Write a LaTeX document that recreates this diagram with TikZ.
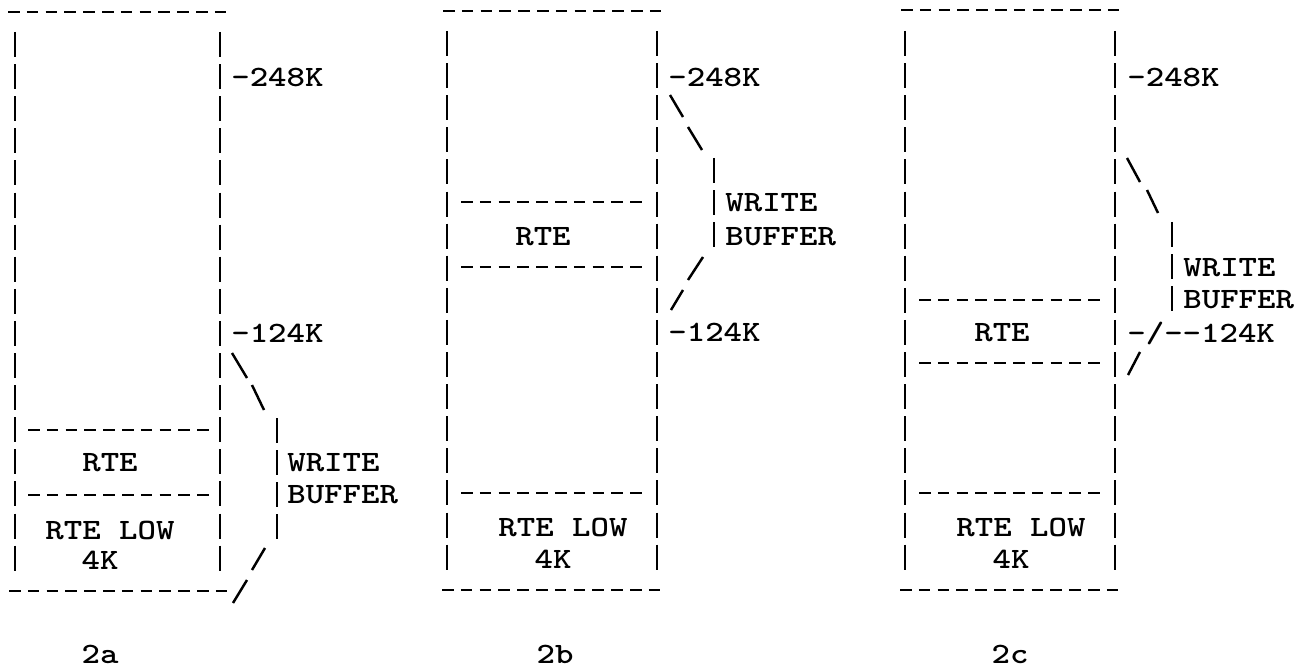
\documentclass[tikz,border=0pt]{standalone}
\usepackage{graphicx}
\usepackage{tikz}
\newcommand{\tw}[1]{\scalebox{1.19}[1]{#1}}
\tikzset{
  wall/.style={line width=1.5pt,dash pattern=on 5mm off 1.42mm},
  rule/.style={line width=1.5pt,dash pattern=on 2.3mm off 1.46mm},
  tick/.style={line width=1.4pt},
  lbl/.style={font=\ttfamily\bfseries\fontsize{16.8}{16.8}\selectfont,inner sep=0pt},
  tag/.style={lbl,anchor=west}
}
\begin{document}
\begin{tikzpicture}[x=0.2mm,y=-0.2mm]
  \useasboundingbox (0,0) rectangle (1301,668);
  % 2a
  \draw[rule] (8,12) -- (226.3,12);
  \draw[wall] (15,32) -- (15,571);
  \draw[wall] (220,32) -- (220,571);
  \draw[rule] (28,430) -- (208.9,430);
  \draw[rule] (28,495) -- (208.9,495);
  \draw[rule] (9,591) -- (227.3,591);
  \node[tag] (hiA) at (231,77) {\tw{-248K}};
  \node[tag] (loA) at (231,333) {\tw{-124K}};
  \draw[tick] (232,353) -- (247,378);
  \draw[tick] (252,385) -- (264,410);
  \draw[wall] (277,418) -- (277,539);
  \draw[tick] (265,548) -- (252,570);
  \draw[tick] (247,580) -- (233,603);
  \node[tag] (wrA) at (287,463) {\tw{WRITE}};
  \node[tag] (bfA) at (287,495) {\tw{BUFFER}};
  \node[lbl] (rteA) at (110,463) {\tw{RTE}};
  \node[lbl] (lowA) at (110,530) {\tw{RTE LOW}};
  \node[lbl] (kA) at (100,560) {\tw{4K}};
  \node[lbl] (capA) at (100,654) {\tw{2a}};
  % 2b
  \draw[rule] (443,11) -- (661.3,11);
  \draw[wall] (447,31) -- (447,571);
  \draw[wall] (657,31) -- (657,571);
  \draw[rule] (461,202) -- (641.9,202);
  \draw[rule] (461,267) -- (641.9,267);
  \draw[rule] (461,493) -- (641.9,493);
  \draw[rule] (442,590) -- (660.3,590);
  \node[tag] (hiB) at (668,77) {\tw{-248K}};
  \node[tag] (loB) at (668,332) {\tw{-124K}};
  \draw[tick] (670,95) -- (683,117);
  \draw[tick] (688,127) -- (702,150);
  \draw[wall] (714,158) -- (714,247);
  \draw[tick] (703,257) -- (688,280);
  \draw[tick] (683,290) -- (671,310);
  \node[tag] (wrB) at (725,203) {\tw{WRITE}};
  \node[tag] (bfB) at (725,237) {\tw{BUFFER}};
  \node[lbl] (rteB) at (543,237) {\tw{RTE}};
  \node[lbl] (lowB) at (563,527) {\tw{RTE LOW}};
  \node[lbl] (kB) at (553,559) {\tw{4K}};
  \node[lbl] (capB) at (555,654) {\tw{2b}};
  % 2c
  \draw[rule] (901,10) -- (1119.3,10);
  \draw[wall] (905,31) -- (905,571);
  \draw[wall] (1115,31) -- (1115,571);
  \draw[rule] (919,300) -- (1099.9,300);
  \draw[rule] (919,363) -- (1099.9,363);
  \draw[rule] (919,493) -- (1099.9,493);
  \draw[rule] (900,590) -- (1118.3,590);
  \node[tag] (hiC) at (1127,77) {\tw{-248K}};
  \node[tag] (loC) at (1127,333) {\tw{-/--124K}};
  \draw[tick] (1127,158) -- (1140,182);
  \draw[tick] (1147,190) -- (1158,213);
  \draw[wall] (1172,222) -- (1172,313);
  \draw[tick] (1140,352) -- (1128,375);
  \node[tag] (wrC) at (1183,268) {\tw{WRITE}};
  \node[tag] (bfC) at (1183,300) {\tw{BUFFER}};
  \node[lbl] (rteC) at (1002,333) {\tw{RTE}};
  \node[lbl] (lowC) at (1021,527) {\tw{RTE LOW}};
  \node[lbl] (kC) at (1011,559) {\tw{4K}};
  \node[lbl] (capC) at (1010,654) {\tw{2c}};
\end{tikzpicture}
\end{document}
